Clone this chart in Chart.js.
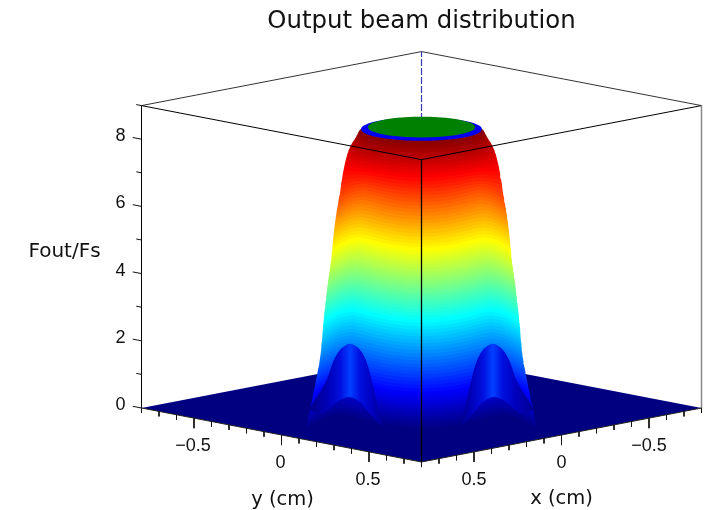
<!DOCTYPE html>
<html>
<head>
<meta charset="utf-8">
<title>Output beam distribution</title>
<script src="https://cdn.jsdelivr.net/npm/chart.js@4/dist/chart.umd.min.js"></script>
<style>
html, body { margin: 0; padding: 0; background: #fff; }
canvas { display: block; filter: blur(0.35px); }
</style>
</head>
<body>
<canvas id="grafico" width="715" height="510"></canvas>
<script>
// beam profile: height and radius (cm) of each contour
const nivelesZ = [0, 0.1, 0.2, 0.3, 0.4, 0.5, 0.6, 0.7, 0.8, 0.9, 1, 1.1, 1.2, 1.3, 1.4, 1.5, 1.6, 1.7, 1.8, 1.9,
    2, 2.1, 2.2, 2.3, 2.4, 2.5, 2.6, 2.7, 2.8, 2.9, 3, 3.1, 3.2, 3.3, 3.4, 3.5, 3.6, 3.7, 3.8, 3.9,
    4, 4.1, 4.2, 4.3, 4.4, 4.5, 4.6, 4.7, 4.8, 4.9, 5, 5.1, 5.2, 5.3, 5.4, 5.5, 5.6, 5.7, 5.8, 5.9,
    6, 6.1, 6.2, 6.3, 6.4, 6.5, 6.6, 6.7, 6.8, 6.9, 7, 7.1, 7.2, 7.3, 7.4, 7.5, 7.6, 7.7, 7.8, 7.9,
    8, 8.1, 8.2];
const radios = [0.469, 0.466, 0.463, 0.461, 0.458, 0.455, 0.451, 0.448, 0.445, 0.442, 0.44, 0.437, 0.434, 0.431, 0.428, 0.425, 0.422, 0.42, 0.417, 0.414,
    0.412, 0.41, 0.408, 0.406, 0.405, 0.404, 0.402, 0.401, 0.4, 0.399, 0.398, 0.397, 0.395, 0.394, 0.393, 0.391, 0.389, 0.388, 0.386, 0.385,
    0.383, 0.382, 0.38, 0.378, 0.376, 0.374, 0.372, 0.37, 0.368, 0.366, 0.364, 0.363, 0.362, 0.36, 0.359, 0.358, 0.356, 0.355, 0.353, 0.352,
    0.35, 0.348, 0.346, 0.344, 0.342, 0.339, 0.337, 0.334, 0.33, 0.327, 0.325, 0.321, 0.318, 0.314, 0.31, 0.305, 0.3, 0.294, 0.287, 0.279,
    0.27, 0.262, 0.255];
// how far each contour departs from a plain circle (0 = circle, 1 = full arch)
const arcoMezcla = [1, 1, 1, 1, 1, 1, 1, 1, 1, 1, 1, 1, 1, 1, 1, 1, 1, 1, 1, 1,
    1, 1, 1, 1, 1, 1, 1, 1, 1, 1, 1, 1, 1, 1, 1, 1, 1, 1, 1, 1,
    1, 1, 1, 1, 1, 1, 1, 1, 1, 1, 1, 1, 1, 1, 1, 1, 1, 1, 1, 1,
    1, 1, 1, 1, 1, 1, 1, 0.93, 0.87, 0.8, 0.7, 0.6, 0.5, 0.4, 0.3, 0.2, 0.13, 0.07, 0, 0,
    0, 0, 0];
// contour shape: sideways fraction of the radius and how far it comes forward
const contornoU = [0, 0.15, 0.3, 0.45, 0.6, 0.7, 0.8, 0.88, 0.94, 0.98, 1];
const contornoV = [1, 0.97, 0.88, 0.72, 0.52, 0.42, 0.5, 0.68, 0.86, 0.98, 1.05];

// flat top of the beam
const zMaximo = 8.3;
const zAnillo = 8.3;
const zTapa = 8.36;
const radioAnillo = 0.245;
const radioTapa = 0.217;

// the two small lobes at the foot of the beam
const lobuloPos = [-0.229, -0.211, -0.171, -0.126, -0.097, -0.057, 0, 0.057, 0.097, 0.131, 0.16, 0.189];
const lobuloAlto = [0.12, 0.35, 0.72, 1.21, 1.68, 2.08, 2.32, 2.2, 1.85, 1.23, 0.57, 0.04];
const lobuloBajo = [0.12, 0.1, 0.05, 0.23, 0.4, 0.6, 0.74, 0.65, 0.45, 0.28, 0.13, 0.04];
const lobuloPlano = 0.4086;

// axes
const limiteXY = 0.8;
const limiteZ = 9;
const ticksXY = [-0.8, -0.7, -0.6, -0.5, -0.4, -0.3, -0.2, -0.1, 0, 0.1, 0.2, 0.3, 0.4, 0.5, 0.6, 0.7, 0.8];
const ticksXYMayores = [-0.5, 0, 0.5];
const ticksZ = [0, 1, 2, 3, 4, 5, 6, 7, 8, 9];
const ticksZMayores = [0, 2, 4, 6, 8];

// view of the box on the canvas
function proyectar(x, y, z) {
    return {
        x: 421.5 + 175 * (y - x),
        y: 408 + 33.75 * (x + y) - 33.6 * z
    };
}

function jet(t) {
    const canal = (c) => Math.round(255 * Math.max(0, Math.min(1, 1.5 - Math.abs(4 * t - c))));
    return `rgb(${canal(3)}, ${canal(2)}, ${canal(1)})`;
}

function puntoContorno(z, r, u, v, lado) {
    const d = lado * u * r * Math.SQRT2;
    const s = v * r * Math.SQRT2;
    return proyectar((s - d) / 2, (s + d) / 2, z);
}

function contorno(z, r, mezcla, siguiente) {
    const puntos = [];
    const ultimo = contornoU.length - 1;
    const elipse = (u) => Math.sqrt(Math.max(0, 1 - u * u));
    const frente = (i, m) => (1 - m) * elipse(contornoU[i]) + m * contornoV[i];
    for (let i = ultimo; i >= 0; i--) puntos.push(puntoContorno(z, r, contornoU[i], frente(i, mezcla), -1));
    for (let i = 1; i <= ultimo; i++) puntos.push(puntoContorno(z, r, contornoU[i], frente(i, mezcla), 1));
    // the side runs up to the edge of the next contour so the outline stays smooth
    if (siguiente) puntos.push(puntoContorno(siguiente.z, siguiente.r, 1, frente(ultimo, siguiente.mezcla), 1));
    for (let i = ultimo; i >= 0; i--) {
        if (siguiente && contornoU[i] > 0.85) continue;
        puntos.push(puntoContorno(z, r, contornoU[i], -elipse(contornoU[i]), 1));
    }
    for (let i = 1; i <= ultimo; i++) {
        if (siguiente && contornoU[i] > 0.85) continue;
        puntos.push(puntoContorno(z, r, contornoU[i], -elipse(contornoU[i]), -1));
    }
    if (siguiente) puntos.push(puntoContorno(siguiente.z, siguiente.r, 1, frente(ultimo, siguiente.mezcla), -1));
    return puntos;
}

function relleno(data, color) {
    return { data, backgroundColor: color, borderWidth: 0, fill: "shape", pointRadius: 0, showLine: true };
}

function linea(data, color, ancho, guiones) {
    return { data, borderColor: color, borderWidth: ancho, borderDash: guiones || [], fill: false, pointRadius: 0, showLine: true };
}

function gradienteLobulo(contexto, lado) {
    const { chart } = contexto;
    if (!chart.chartArea) return "#0000e0";
    const xs = lobuloPos.map(p => lado < 0 ? proyectar(lobuloPlano, p, 0).x : proyectar(p, lobuloPlano, 0).x);
    const ini = chart.scales.x.getPixelForValue(Math.min(...xs));
    const fin = chart.scales.x.getPixelForValue(Math.max(...xs));
    const g = chart.ctx.createLinearGradient(ini, 0, fin, 0);
    const paradas = lado < 0 ? [0, 0.25, 0.42, 0.55, 0.68, 0.85, 1] : [0, 0.15, 0.32, 0.45, 0.58, 0.75, 1];
    const colores = ["#000088", "#0000b8", "#0010e0", "#0040ff", "#0010e0", "#0000c0", "#000090"];
    paradas.forEach((p, i) => g.addColorStop(p, colores[i]));
    return g;
}

function lobulo(lado) {
    const pos = (p, z) => lado < 0 ? proyectar(lobuloPlano, p, z) : proyectar(p, lobuloPlano, z);
    const arriba = lobuloPos.map((p, i) => pos(p, lobuloAlto[i]));
    const abajo = lobuloPos.map((p, i) => pos(p, lobuloBajo[i])).reverse();
    return {
        data: arriba.concat(abajo),
        backgroundColor: (c) => gradienteLobulo(c, lado),
        borderWidth: 0, fill: "shape", pointRadius: 0, showLine: true, tension: 0.3
    };
}

const L = limiteXY;
const H = limiteZ;
const capas = [];

// back of the box, seen behind the beam
capas.push(linea([proyectar(L, -L, H), proyectar(-L, -L, H), proyectar(-L, L, H)], "#333", 1));
capas.push(linea([proyectar(-L, -L, 0), proyectar(-L, -L, H)], "#3a3ab8", 1.2, [7, 2]));

// floor
capas.push(relleno([proyectar(L, -L, 0), proyectar(L, L, 0), proyectar(-L, L, 0), proyectar(-L, -L, 0)], "#000080"));

// beam, contour by contour from the bottom up
nivelesZ.forEach((z, i) => {
    const siguiente = i < nivelesZ.length - 1 ? { z: nivelesZ[i + 1], r: radios[i + 1], mezcla: arcoMezcla[i + 1] } : null;
    capas.push(relleno(contorno(z, radios[i], arcoMezcla[i], siguiente), jet(z / zMaximo)));
});
capas.push(relleno(contorno(zAnillo, radioAnillo, 0), "#0000f0"));
capas.push(relleno(contorno(zTapa, radioTapa, 0), "#008000"));

capas.push(lobulo(-1));
capas.push(lobulo(1));

// front of the box
capas.push(linea([proyectar(L, -L, 0), proyectar(L, -L, H), proyectar(L, L, H), proyectar(-L, L, H)], "#000", 1));
capas.push(linea([proyectar(-L, L, H), proyectar(-L, L, 0)], "#888", 1.5));
capas.push(linea([proyectar(L, L, 0), proyectar(L, L, H)], "#000", 1.3));
capas.push(linea([proyectar(L, -L, 0), proyectar(L, L, 0), proyectar(-L, L, 0)], "#222", 1));

// ticks
ticksXY.forEach((t) => {
    const largo = ticksXYMayores.includes(t) ? 0.3 : 0.15;
    capas.push(linea([proyectar(L, t, 0), proyectar(L, t, -largo)], "#111", 1));
    capas.push(linea([proyectar(t, L, 0), proyectar(t, L, -largo)], "#111", 1));
});
ticksZ.forEach((t) => {
    const largo = ticksZMayores.includes(t) ? 0.05 : 0.03;
    capas.push(linea([proyectar(L, -L, t), proyectar(L, -L - largo, t)], "#111", 1));
});

// text sits next to the axis it belongs to
const textos = [
    { texto: "Output beam distribution", fuente: "24.4px 'DejaVu Sans'", ...proyectar(-L, -L, H), dx: 0, dy: -30 },
    { texto: "Fout/Fs", fuente: "20px 'DejaVu Sans'", ...proyectar(L, -L, 4.7), dx: -77, dy: 2 },
    { texto: "y (cm)", fuente: "19.5px 'DejaVu Sans'", ...proyectar(L, 0, 0), dx: 1, dy: 65 },
    { texto: "x (cm)", fuente: "19.5px 'DejaVu Sans'", ...proyectar(0, L, 0), dx: 0, dy: 64 }
];
ticksXYMayores.forEach((t) => {
    const etiqueta = t < 0 ? "\u2212" + Math.abs(t) : String(t);
    textos.push({ texto: etiqueta, fuente: "18px 'Liberation Sans'", ...proyectar(L, t, 0), dx: -1, dy: 28 });
    textos.push({ texto: etiqueta, fuente: "18px 'Liberation Sans'", ...proyectar(t, L, 0), dx: 0, dy: 28 });
});
ticksZMayores.forEach((t) => {
    textos.push({ texto: String(t), fuente: "18px 'Liberation Sans'", ...proyectar(L, -L, t), dx: -21, dy: -3 });
});

const pluginTextos = {
    id: "textos",
    afterDraw(chart) {
        const { ctx, scales } = chart;
        ctx.save();
        ctx.fillStyle = "#111";
        ctx.textAlign = "center";
        ctx.textBaseline = "middle";
        textos.forEach((t) => {
            ctx.font = t.fuente;
            ctx.fillText(t.texto, scales.x.getPixelForValue(t.x) + t.dx, scales.y.getPixelForValue(t.y) + t.dy);
        });
        ctx.restore();
    }
};

new Chart(document.getElementById("grafico"), {
    type: "scatter",
    // first dataset is painted last, so the list goes back to front
    data: { datasets: capas.slice().reverse() },
    options: {
        responsive: false,
        animation: false,
        layout: { padding: 0 },
        plugins: { legend: { display: false }, tooltip: { enabled: false } },
        scales: {
            x: { type: "linear", min: 0, max: 715, display: false },
            y: { type: "linear", min: 0, max: 510, reverse: true, display: false }
        }
    },
    plugins: [pluginTextos]
});
</script>
</body>
</html>
